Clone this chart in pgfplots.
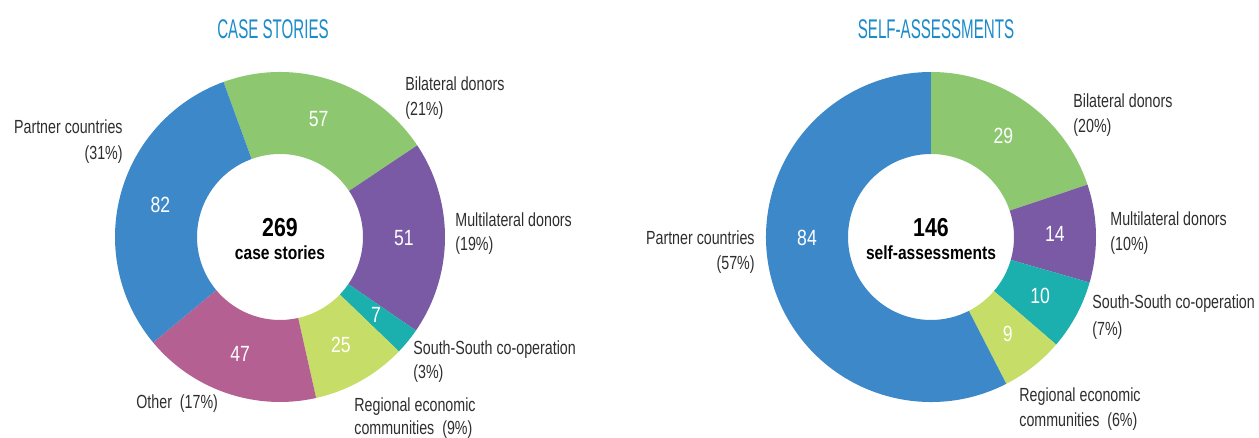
\documentclass[border=0pt]{standalone}
\usepackage{fontspec}
\setmainfont{Liberation Sans}[FakeStretch=0.75]
\newfontfamily\titlefont{Liberation Sans}[FakeStretch=0.56]
\newfontfamily\boldfont{Liberation Sans}[FakeStretch=0.82]
\newfontfamily\numfont{Liberation Sans}[FakeStretch=0.8]
\usepackage{pgfplots}
\pgfplotsset{compat=1.18}
\usepackage{pgfplotstable}
\usetikzlibrary{calc}

\definecolor{cblue}{HTML}{3C88C8}
\definecolor{cgreen}{HTML}{8DC870}
\definecolor{cpurple}{HTML}{7B5AA5}
\definecolor{cteal}{HTML}{1BAFAE}
\definecolor{clime}{HTML}{C6DD68}
\definecolor{cpink}{HTML}{B56092}
\definecolor{ctitle}{HTML}{1B8BC9}
\definecolor{ctext}{HTML}{2E2E2E}

% value, colour, shift of the number label (deg); clockwise order
\pgfplotstableread{
v c s
57 cgreen 0
51 cpurple 0
7 cteal 0
25 clime 0
47 cpink 0
82 cblue 0
}\casetab

\pgfplotstableread{
v c s
29 cgreen 0
14 cpurple 0
10 cteal 0
9 clime 0
84 cblue -13
}\selftab

\def\Rout{82.5pt}
\def\Rin{41.5pt}
\def\Rmid{62pt}

% #1 table, #2 #3 centre (axis units), #4 start angle
\newcommand\donut[4]{%
  \pgfplotstablegetrowsof{#1}%
  \pgfmathtruncatemacro\nrows{\pgfplotsretval-1}%
  \def\tot{0}%
  \pgfplotsforeachungrouped \i in {0,...,\nrows}{%
    \pgfplotstablegetelem{\i}{v}\of{#1}%
    \pgfmathsetmacro\tot{\tot+\pgfplotsretval}}%
  \pgfmathsetmacro\angA{#4}%
  \pgfplotsforeachungrouped \i in {0,...,\nrows}{%
    \pgfplotstablegetelem{\i}{v}\of{#1}\let\val\pgfplotsretval
    \pgfplotstablegetelem{\i}{c}\of{#1}\let\col\pgfplotsretval
    \pgfplotstablegetelem{\i}{s}\of{#1}\let\sh\pgfplotsretval
    \pgfmathsetmacro\angB{\angA-\val/\tot*360}%
    \pgfmathsetmacro\angM{(\angA+\angB)/2+\sh}%
    \edef\cmd{%
      \noexpand\fill[\col] ($(axis cs:#2,#3)+(\angA:\Rout)$)
        arc[start angle=\angA, end angle=\angB, radius=\Rout]
        -- ($(axis cs:#2,#3)+(\angB:\Rin)$)
        arc[start angle=\angB, end angle=\angA, radius=\Rin] -- cycle;
      \noexpand\node[numlab] at ($(axis cs:#2,#3)+(\angM:\Rmid)$) {\val};}%
    \cmd
    \let\angA\angB
  }}

\begin{document}
\begin{tikzpicture}[
  lab/.style={font=\fontsize{9.5}{11}\selectfont, text=ctext, inner sep=0pt},
  numlab/.style={font=\numfont\fontsize{11}{13}\selectfont, text=white, inner sep=0pt},
  ttl/.style={font=\titlefont\fontsize{13.5}{15}\selectfont, text=ctitle, inner sep=0pt},
  ctr/.style={font=\boldfont\bfseries\fontsize{9.5}{11}\selectfont, text=black, inner sep=0pt},
  big/.style={font=\boldfont\bfseries\fontsize{13}{15}\selectfont, text=black, inner sep=0pt}]
\begin{axis}[x=0.5pt, y=0.5pt, xmin=0, xmax=1259, ymin=0, ymax=438,
  hide axis, clip=false]
\coordinate (bl) at (axis cs:0,0);
\coordinate (tr) at (axis cs:1259,438);

\donut{\casetab}{280}{201}{110}
\donut{\selftab}{931}{201}{90}

\node[ttl] at (axis cs:273,409) {CASE STORIES};
\node[ttl] at (axis cs:936,409) {SELF-ASSESSMENTS};

\node[big] at (axis cs:280,210) {269};
\node[ctr] at (axis cs:280,185) {case stories};
\node[big] at (axis cs:931,210) {146};
\node[ctr] at (axis cs:931,185) {self-assessments};

% case stories labels
\node[lab, anchor=east] at (axis cs:123,311) {Partner countries};
\node[lab, anchor=east] at (axis cs:123,283) {(31\%)};
\node[lab, anchor=west] at (axis cs:405,354) {Bilateral donors};
\node[lab, anchor=west] at (axis cs:405,327) {(21\%)};
\node[lab, anchor=west] at (axis cs:455,218) {Multilateral donors};
\node[lab, anchor=west] at (axis cs:455,192) {(19\%)};
\node[lab, anchor=west] at (axis cs:413,88) {South-South co-operation};
\node[lab, anchor=west] at (axis cs:413,64) {(3\%)};
\node[lab, anchor=west] at (axis cs:354,31) {Regional economic};
\node[lab, anchor=west] at (axis cs:354,8) {communities~~(9\%)};
\node[lab, anchor=west] at (axis cs:136,34) {Other~~(17\%)};

% self-assessment labels
\node[lab, anchor=east] at (axis cs:755,200) {Partner countries};
\node[lab, anchor=east] at (axis cs:755,173) {(57\%)};
\node[lab, anchor=west] at (axis cs:1073,337) {Bilateral donors};
\node[lab, anchor=west] at (axis cs:1073,310) {(20\%)};
\node[lab, anchor=west] at (axis cs:1110,219) {Multilateral donors};
\node[lab, anchor=west] at (axis cs:1110,192) {(10\%)};
\node[lab, anchor=west] at (axis cs:1092,134) {South-South co-operation};
\node[lab, anchor=west] at (axis cs:1092,107) {(7\%)};
\node[lab, anchor=west] at (axis cs:1019,41) {Regional economic};
\node[lab, anchor=west] at (axis cs:1019,16) {communities~~(6\%)};
\end{axis}
\pgfresetboundingbox
\path (bl) rectangle (tr);
\end{tikzpicture}
\end{document}
